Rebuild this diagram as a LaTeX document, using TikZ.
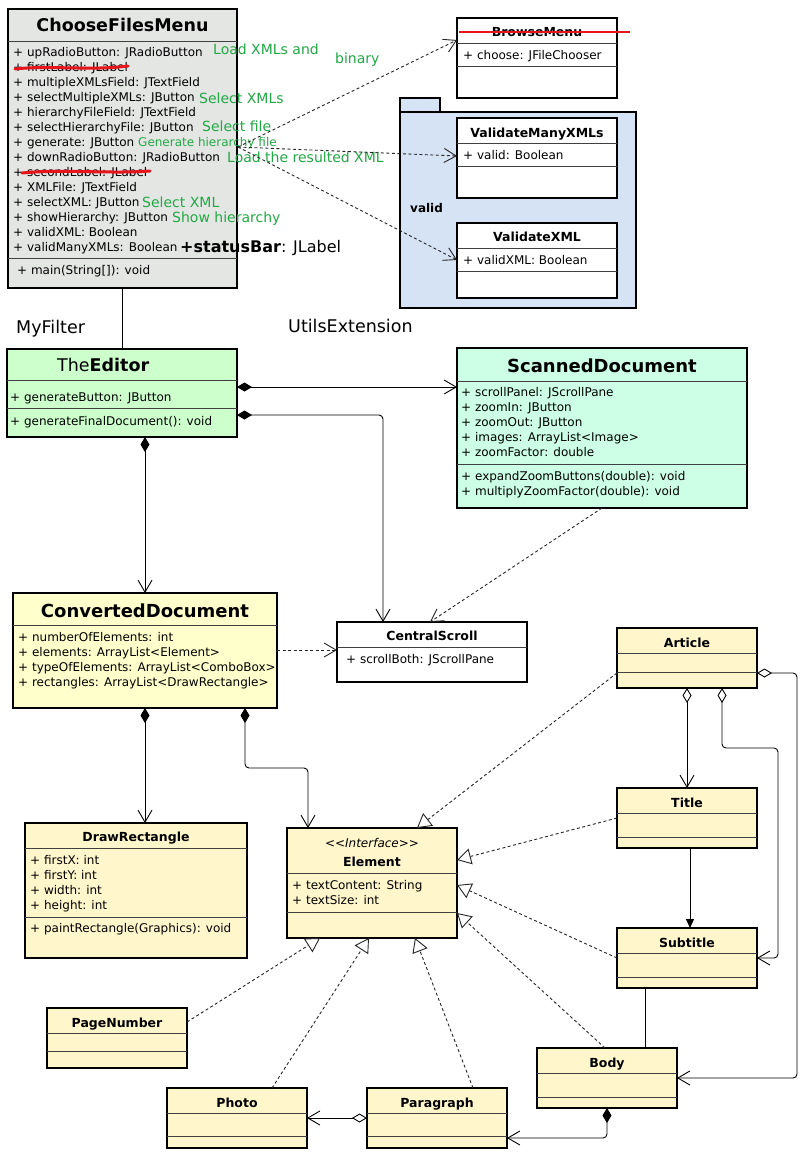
\documentclass[tikz,border=0pt]{standalone}
\usepackage{fontspec}
\setmainfont{DejaVu Sans}
\usetikzlibrary{arrows.meta,calc}
\definecolor{cfmgray}{HTML}{E4E6E4}
\definecolor{edgreen}{HTML}{CCFFCC}
\definecolor{scanmint}{HTML}{CCFFE6}
\definecolor{convyel}{HTML}{FFFFCC}
\definecolor{cream}{HTML}{FFF6CC}
\definecolor{pkgblue}{HTML}{D6E3F4}
\definecolor{notegreen}{HTML}{22A845}
\definecolor{strikered}{HTML}{E8141C}
\tikzset{
  box/.style={draw=black, line width=1.1pt, inner sep=0pt, outer sep=0pt, anchor=north west},
  sepl/.style={draw=black!75, line width=0.8pt},
  attr/.style={anchor=base west, inner sep=0pt, font=\fontsize{12}{14}\selectfont},
  ctitle/.style={anchor=base, inner sep=0pt, font=\fontsize{12.5}{15}\selectfont\bfseries},
  btitle/.style={anchor=base, inner sep=0pt, font=\fontsize{18}{21}\selectfont\bfseries},
  note/.style={anchor=base west, inner sep=0pt, text=notegreen, font=\fontsize{14}{16}\selectfont},
  bigtext/.style={anchor=base west, inner sep=0pt, font=\fontsize{17.5}{20}\selectfont},
  conn/.style={line width=0.9pt, rounded corners=4pt},
  dep/.style={line width=0.9pt, dash pattern=on 3pt off 2.5pt, draw=black!85},
  openarr/.style={arrows={-Straight Barb[length=12pt,width=14pt]}},
  comparr/.style={arrows={Diamond[length=15pt,width=9pt]-Straight Barb[length=12pt,width=14pt]}},
  aggarr/.style={arrows={Diamond[open,fill=white,length=15pt,width=9pt]-Straight Barb[length=12pt,width=14pt]}},
  realarr/.style={arrows={-Triangle[open,fill=white,length=14pt,width=16pt]}},
  filledarr/.style={arrows={-Triangle[length=9pt,width=8pt]}},
  strike/.style={draw=strikered, line cap=round},
}
\newcommand\umlbox[6]{\node[box, fill=#6, minimum width={(#4)-(#2)}, minimum height={(#5)-(#3)}] (#1) at (#2,#3) {};}
\newcommand\hsep[2]{\draw[sepl] ($(#1.north west)+(0,#2)$) -- ($(#1.north east)+(0,#2)$);}
\begin{document}
\begin{tikzpicture}[x=1pt,y=-1pt]
\path[use as bounding box, fill=white] (0,0) rectangle (804,1154);

% ---------- package ----------
\umlbox{pkgtab}{400}{98}{440}{112}{pkgblue}
\umlbox{pkg}{400}{112}{636}{308}{pkgblue}
\node[anchor=base west, inner sep=0pt, font=\fontsize{12}{14}\selectfont\bfseries] (pkglabel) at (410,212.4) {valid};

% ---------- boxes ----------
\umlbox{cfm}{8}{9}{237}{288}{cfmgray}
\umlbox{browse}{457}{18}{617}{98}{white}
\umlbox{vmany}{457}{118}{617}{198}{white}
\umlbox{vxml}{457}{223}{617}{298}{white}
\umlbox{editor}{7}{349}{237}{437}{edgreen}
\umlbox{scanned}{457}{348}{747}{508}{scanmint}
\umlbox{conv}{13}{593}{277}{708}{convyel}
\umlbox{central}{337}{622}{527}{682}{white}
\umlbox{drawrect}{25}{823}{247}{958}{cream}
\umlbox{element}{287}{828}{457}{938}{cream}
\umlbox{article}{617}{628}{757}{688}{cream}
\umlbox{title}{617}{788}{757}{848}{cream}
\umlbox{subtitle}{617}{928}{757}{988}{cream}
\umlbox{body}{537}{1048}{677}{1108}{cream}
\umlbox{pagenum}{47}{1008}{187}{1068}{cream}
\umlbox{photo}{167}{1088}{307}{1148}{cream}
\umlbox{paragraph}{367}{1088}{507}{1148}{cream}

% ---------- separators ----------
\hsep{cfm}{32}\hsep{cfm}{249}
\hsep{browse}{25}\hsep{browse}{48}
\hsep{vmany}{25}\hsep{vmany}{48}
\hsep{vxml}{25}\hsep{vxml}{48}
\hsep{editor}{31}\hsep{editor}{59}
\hsep{scanned}{33}\hsep{scanned}{116}
\hsep{conv}{32}
\hsep{central}{25}
\hsep{drawrect}{25}\hsep{drawrect}{94}
\hsep{element}{45}\hsep{element}{84}
\hsep{article}{25}\hsep{article}{44}
\hsep{title}{25}\hsep{title}{49}
\hsep{subtitle}{25}\hsep{subtitle}{49}
\hsep{body}{25}\hsep{body}{49}
\hsep{pagenum}{25}\hsep{pagenum}{43}
\hsep{photo}{25}\hsep{photo}{48}
\hsep{paragraph}{25}\hsep{paragraph}{48}

% ---------- ChooseFilesMenu ----------
\node[anchor=base, inner sep=0pt, font=\fontsize{17.5}{20}\selectfont\bfseries] (cfmT) at (122.5,31.4) {ChooseFilesMenu};
\foreach \t [count=\i] in {{+ upRadioButton: JRadioButton},{+ firstLabel: JLabel},{+ multipleXMLsField: JTextField},{+ selectMultipleXMLs: JButton},{+ hierarchyFileField: JTextField},{+ selectHierarchyFile: JButton},{+ generate: JButton},{+ downRadioButton: JRadioButton},{+ secondLabel: JLabel},{+ XMLFile: JTextField},{+ selectXML: JButton},{+ showHierarchy: JButton},{+ validXML: Boolean},{+ validManyXMLs: Boolean}}
  \node[attr] (cfma\i) at (13,{41.4+15*\i}) {\t};
\node[attr] (cfmm1) at (17,274.4) {+ main(String[]): void};

\node[note] (n1) at (213,54.1) {Load XMLs and};
\node[note] (n2) at (335,63.1) {binary};
\node[note] (n3) at (199,103.1) {Select XMLs};
\node[note] (n4) at (202,131.1) {Select file};
\node[note, font=\fontsize{12}{14}\selectfont] (n5) at (138,146.4) {Generate hierarchy file};
\node[note] (n6) at (227,162.1) {Load the resulted XML};
\node[note] (n7) at (142,207.1) {Select XML};
\node[note] (n8) at (172,222.1) {Show hierarchy};
\node[anchor=base west, inner sep=0pt, font=\fontsize{16}{18}\selectfont] (status) at (180,252.8) {\textbf{+statusBar}: JLabel};

% ---------- small classes top right ----------
\node[ctitle] (browseT) at (537,36.6) {BrowseMenu};
\node[attr] (browsea1) at (463,59.4) {+ choose: JFileChooser};
\node[ctitle] (vmanyT) at (537,137.6) {ValidateManyXMLs};
\node[attr] (vmanya1) at (463,159.4) {+ valid: Boolean};
\node[ctitle] (vxmlT) at (537,241.6) {ValidateXML};
\node[attr] (vxmla1) at (463,264.4) {+ validXML: Boolean};

% ---------- free labels ----------
\node[bigtext] (myfilter) at (16,333.4) {MyFilter};
\node[bigtext] (utils) at (288,332.4) {UtilsExtension};

% ---------- TheEditor ----------
\node[anchor=base west, inner sep=0pt, font=\fontsize{17.5}{20}\selectfont] (editorT) at (57,371.4) {The\textbf{Editor}};
\node[attr] (editora1) at (10,401.4) {+ generateButton: JButton};
\node[attr] (editorm1) at (10,425.4) {+ generateFinalDocument(): void};

% ---------- ScannedDocument ----------
\node[btitle] (scannedT) at (602,372.6) {ScannedDocument};
\foreach \t [count=\i] in {{+ scrollPanel: JScrollPane},{+ zoomIn: JButton},{+ zoomOut: JButton},{+ images: ArrayList<Image>},{+ zoomFactor: double}}
  \node[attr] (sca\i) at (461,{381.4+15*\i}) {\t};
\node[attr] (scm1) at (461,480.4) {+ expandZoomButtons(double): void};
\node[attr] (scm2) at (461,495.4) {+ multiplyZoomFactor(double): void};

% ---------- ConvertedDocument ----------
\node[btitle] (convT) at (145,617.6) {ConvertedDocument};
\foreach \t [count=\i] in {{+ numberOfElements: int},{+ elements: ArrayList<Element>},{+ typeOfElements: ArrayList<ComboBox>},{+ rectangles: ArrayList<DrawRectangle>}}
  \node[attr] (conva\i) at (18,{626.4+15*\i}) {\t};

% ---------- CentralScroll ----------
\node[ctitle] (centralT) at (432,640.6) {CentralScroll};
\node[attr] (centrala1) at (346,663.4) {+ scrollBoth: JScrollPane};

% ---------- DrawRectangle ----------
\node[ctitle] (drawrectT) at (136,841.6) {DrawRectangle};
\foreach \t [count=\i] in {{+ firstX: int},{+ firstY: int},{+ width: int},{+ height: int}}
  \node[attr] (drawa\i) at (30,{849.4+15*\i}) {\t};
\node[attr] (drawm1) at (30,932.4) {+ paintRectangle(Graphics): void};

% ---------- Element ----------
\node[anchor=base, inner sep=0pt, font=\fontsize{12}{14}\selectfont\itshape] (elementS) at (372,847.4) {<\kern0pt<Interface>\kern0pt>};
\node[ctitle] (elementT) at (372,866.6) {Element};
\node[attr] (elementa1) at (292,889.4) {+ textContent: String};
\node[attr] (elementa2) at (292,904.4) {+ textSize: int};

% ---------- small cream classes ----------
\node[ctitle] (articleT) at (687,647.6) {Article};
\node[ctitle] (titleT) at (687,807.6) {Title};
\node[ctitle] (subtitleT) at (687,947.6) {Subtitle};
\node[ctitle] (bodyT) at (607,1067.6) {Body};
\node[ctitle] (pagenumT) at (117,1027.6) {PageNumber};
\node[ctitle] (photoT) at (237,1107.6) {Photo};
\node[ctitle] (paragraphT) at (437,1107.6) {Paragraph};

% ---------- connectors ----------
\coordinate (cfmout) at ($(cfm.north east)+(1,138)$);
\draw[dep, openarr] (cfmout) -- ($(browse.north west)+(0,22)$);
\draw[dep, openarr] (cfmout) -- ($(vmany.north west)+(0,38)$);
\draw[dep, openarr] (cfmout) -- ($(vxml.north west)+(0,37)$);
\draw[conn] (cfm.south) -- (cfm.south |- editor.north);

\draw[conn, comparr] ($(editor.north east)+(0,38)$) -- ($(scanned.north west)+(0,39)$);
\draw[conn, comparr] ($(editor.north east)+(0,66)$) -| ($(central.north west)+(46,0)$);
\draw[conn, comparr] ($(editor.south west)+(138,0)$) -- ($(conv.north west)+(132,0)$);
\draw[dep, openarr] ($(scanned.south west)+(145,0)$) -- ($(central.north west)+(93,0)$);
\draw[dep, openarr] ($(conv.north east)+(0,57)$) -- ($(central.north west)+(0,28)$);

\draw[conn, comparr] ($(conv.south west)+(132,0)$) -- ($(drawrect.north west)+(120,0)$);
\draw[conn, comparr] ($(conv.south west)+(232,0)$) -- ++(0,60) -| ($(element.north west)+(21,0)$);

\draw[dep, realarr] ($(article.north west)+(0,45)$) -- ($(element.north west)+(130,0)$);
\draw[dep, realarr] ($(title.north west)+(0,30)$) -- ($(element.north east)+(0,32)$);
\draw[dep, realarr] ($(subtitle.north west)+(0,30)$) -- ($(element.north east)+(0,57)$);
\draw[dep, realarr] ($(body.north west)+(68,0)$) -- ($(element.north east)+(0,85)$);
\draw[dep, realarr] ($(pagenum.north east)+(0,14)$) -- ($(element.south west)+(33,0)$);
\draw[dep, realarr] ($(photo.north west)+(105,0)$) -- ($(element.south west)+(82,0)$);
\draw[dep, realarr] ($(paragraph.north west)+(106,0)$) -- ($(element.south west)+(128,0)$);

\draw[conn, aggarr] ($(article.south west)+(70,0)$) -- ($(title.north west)+(70,0)$);
\draw[conn, aggarr] ($(article.south west)+(105,0)$) -- ++(0,60) -- ++(56,0) |- ($(subtitle.north east)+(0,30)$);
\draw[conn, aggarr] ($(article.north east)+(0,45)$) -- ++(40,0) |- ($(body.north east)+(0,30)$);
\draw[conn, filledarr] ($(title.south west)+(73,0)$) -- ($(subtitle.north west)+(73,0)$);
\draw[conn] ($(subtitle.south west)+(28,0)$) -- ($(body.north west)+(108,0)$);
\draw[conn, aggarr] ($(paragraph.north west)+(0,30)$) -- ($(photo.north east)+(0,30)$);
\draw[conn, comparr] ($(body.south west)+(70,0)$) |- ($(paragraph.north east)+(0,50)$);

% ---------- strike-throughs ----------
\draw[strike, line width=3pt] (15,69) .. controls (50,65) and (90,71) .. (128,66);
\draw[strike, line width=3pt] (22,173) .. controls (60,169) and (110,174) .. (150,171);
\draw[strike, line width=2pt, line cap=butt] (459,32) -- (630,32);
\end{tikzpicture}
\end{document}
